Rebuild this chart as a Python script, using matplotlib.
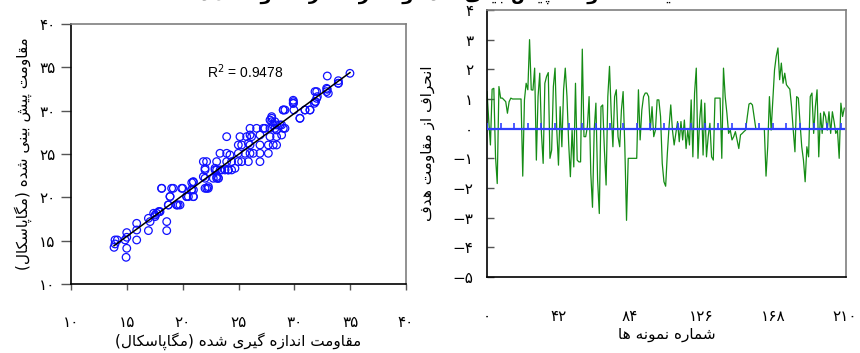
import numpy as np
import matplotlib
matplotlib.use("Agg")
import matplotlib.pyplot as plt

plt.rcParams['font.family'] = ['DejaVu Sans']

# ---- data: measured vs predicted strength (MPa)
measured = [13.94, 14.15, 13.94, 13.85, 14.99, 14.93, 14.99, 14.99, 14.84, 15.88,
            15.88, 15.88, 16.93, 17.08, 16.93, 17.53, 17.91, 18.57, 18.57, 18.72,
            19.46, 19.60, 20.81, 20.96, 20.51, 20.96, 22.00, 22.15, 22.00, 21.85,
            22.30, 23.05, 23.20, 22.90, 23.35, 23.79, 24.09, 17.40, 17.85, 18.12,
            19.16, 20.00, 18.87, 20.36, 20.95, 20.80,
            29.01, 29.91, 29.91, 30.95, 31.40, 31.85, 32.00, 31.85, 32.89, 32.89,
            33.94, 30.50, 27.97, 27.82, 28.26, 28.86, 29.16, 26.03, 26.62, 27.22,
            27.37, 27.82, 28.26, 28.41, 28.71, 23.94, 25.13, 25.73, 26.03, 26.17,
            26.92, 27.82, 28.41, 28.86, 24.98, 25.28, 25.88, 26.03, 26.92, 27.67,
            28.11, 28.41, 23.34, 23.94, 24.23, 24.98, 25.58, 26.03, 26.32, 26.92,
            27.67, 22.14, 23.04, 23.94, 24.38, 24.98, 25.28, 25.88, 26.92, 22.00,
            22.89, 23.04, 23.49, 24.08, 24.38, 24.68, 21.85, 22.74, 23.04, 23.19,
            22.29, 22.00, 20.95, 20.80, 20.35, 20.95, 18.86, 18.71, 19.46, 19.76,
            18.11, 19.01, 19.91, 17.67, 17.97, 17.52,
            34.98, 32.95, 33.94, 33.94, 32.95, 33.04, 32.00, 32.06, 31.90, 31.80,
            29.90, 29.90, 29.96, 29.00, 29.16, 30.50, 30.95, 31.40, 27.97, 27.97,
            28.10, 28.41, 29.01]
predicted = [15.08, 15.08, 14.62, 14.23, 14.12, 13.08, 15.93, 15.39, 15.08, 17.00,
             16.23, 15.08, 17.58, 17.20, 16.16, 17.96, 18.35, 17.20, 16.16, 19.12,
             19.12, 19.12, 21.69, 20.85, 20.08, 20.08, 22.20, 21.04, 23.16, 24.12,
             21.23, 22.39, 22.20, 23.16, 23.16, 23.16, 23.16, 18.16, 18.35, 21.04,
             21.04, 21.04, 20.10, 20.10, 21.75, 20.90,
             30.08, 31.04, 30.85, 30.08, 30.08, 32.20, 31.42, 31.04, 32.20, 32.58,
             33.16, 29.12, 29.31, 28.92, 28.73, 28.35, 27.96, 27.96, 27.96, 27.96,
             27.96, 27.96, 27.96, 27.77, 28.35, 27.00, 27.00, 27.00, 27.19, 27.00,
             27.19, 27.00, 27.00, 27.19, 26.04, 26.04, 26.23, 26.04, 26.04, 26.04,
             26.04, 26.04, 25.08, 25.08, 24.89, 25.08, 25.08, 25.08, 25.08, 25.08,
             25.08, 24.12, 24.12, 24.12, 24.12, 24.12, 24.12, 24.12, 24.12, 23.35,
             23.35, 23.16, 23.16, 23.16, 23.16, 23.35, 22.39, 22.20, 22.20, 22.20,
             21.04, 21.04, 21.81, 20.85, 20.08, 20.08, 20.08, 19.12, 19.12, 19.12,
             21.04, 21.04, 21.04, 18.16, 18.35, 17.77,
             34.31, 34.00, 33.46, 33.16, 32.47, 32.00, 32.20, 31.62, 31.04, 30.85,
             31.20, 30.85, 30.08, 30.08, 30.08, 29.12, 30.08, 30.08, 29.12, 28.73,
             28.35, 28.35, 27.96]
r2_text = "R$^2$ = 0.9478"

# ---- data: deviation from target strength per sample
sample_no = list(range(0, 211))
deviation = [1.25, 0.29, -0.55, 1.33, 1.36, -0.95, -1.85, 1.42, 1.03, 1.03,
             0.97, 0.91, 0.52, 0.91, 1.03, 1.0, 1.0, 1.0, 1.0, 1.0,
             1.0, -1.6, 0.97, 1.53, 1.31, 3.0, 1.31, 1.3, 2.04, -1.06,
             1.08, 1.87, -0.16, -1.17, 1.53, 1.76, 1.89, -1.0, -0.72, 1.42,
             2.04, -0.05, -1.23, 0.74, -0.61, 1.31, 2.04, 1.08, -0.5, -1.62,
             -0.05, -1.29, 1.53, -1.06, -1.12, -1.12, 2.68, -0.27, -0.27, 0.07,
             1.08, -1.51, -2.65, -0.05, 0.86, -1.73, -2.86, 0.74, 0.8, -0.72,
             -1.9, 1.08, 2.1, 0.52, -0.61, 1.08, 1.31, -0.27, -0.61, 0.63,
             1.25, -0.61, -3.09, -1.0, -1.0, -1.0, -1.0, -1.0, -1.0, 1.31,
             -0.38, 0.63, 1.08, 1.2, 1.2, 1.08, -0.05, 0.74, -0.27, -0.05,
             0.97, 0.97, 0.41, -1.17, -1.79, -1.94, -0.83, 0.07, 0.8, -0.05,
             -0.55, -0.16, 0.24, -0.44, 0.24, -0.38, 0.29, -0.67, -0.05, -0.55,
             0.97, -0.95, 1.2, 2.04, -1.0, 0.29, 0.97, -0.89, 0.86, -0.95,
             -0.27, 0.18, -0.95, -1.06, 1.03, 1.03, 1.03, 1.03, -1.0, 2.04,
             1.08, 0.52, -0.16, -0.05, -0.38, -0.27, -0.1, -0.38, -0.67, -0.21,
             -0.16, -0.1, -0.05, 0.41, 0.83, 0.86, 0.8, 0.41, 0.0, 0.0,
             0.0, 0.0, 0.0, 0.0, -1.6, -0.61, 1.08, -0.05, 0.97, 1.98,
             2.44, 2.72, 1.65, 2.21, 1.53, 1.87, 1.48, 1.4, 1.33, 0.74,
             -0.05, -0.78, 1.08, 1.03, 0.18, -0.61, -1.06, -1.79, -0.61, -0.95,
             1.08, 1.2, -0.16, 0.74, 1.31, -0.95, 0.52, -0.16, 0.57, 0.41,
             -0.05, 0.57, -0.16, 0.57, 0.24, -0.16, -0.05, -1.0, 0.86, 0.41,
             0.69]
target_dev = [0.0] * len(sample_no)

left_ticks = [10, 15, 20, 25, 30, 35, 40]
right_yticks = [-5, -4, -3, -2, -1, 0, 1, 2, 3, 4]
right_xticks = [0, 42, 84, 126, 168, 210]

# ---- minimal persian shaping (matplotlib has no bidi / joining)
FORMS = {
    'ا': ('\uFE8D', '\uFE8E', None, None),
    'ب': ('\uFE8F', '\uFE90', '\uFE91', '\uFE92'),
    'پ': ('\uFB56', '\uFB57', '\uFB58', '\uFB59'),
    'ت': ('\uFE95', '\uFE96', '\uFE97', '\uFE98'),
    'ج': ('\uFE9D', '\uFE9E', '\uFE9F', '\uFEA0'),
    'ح': ('\uFEA1', '\uFEA2', '\uFEA3', '\uFEA4'),
    'د': ('\uFEA9', '\uFEAA', None, None),
    'ر': ('\uFEAD', '\uFEAE', None, None),
    'ز': ('\uFEAF', '\uFEB0', None, None),
    'س': ('\uFEB1', '\uFEB2', '\uFEB3', '\uFEB4'),
    'ش': ('\uFEB5', '\uFEB6', '\uFEB7', '\uFEB8'),
    'ع': ('\uFEC9', '\uFECA', '\uFECB', '\uFECC'),
    'ف': ('\uFED1', '\uFED2', '\uFED3', '\uFED4'),
    'ق': ('\uFED5', '\uFED6', '\uFED7', '\uFED8'),
    'ک': ('\uFB8E', '\uFB8F', '\uFB90', '\uFB91'),
    'گ': ('\uFB92', '\uFB93', '\uFB94', '\uFB95'),
    'ل': ('\uFEDD', '\uFEDE', '\uFEDF', '\uFEE0'),
    'م': ('\uFEE1', '\uFEE2', '\uFEE3', '\uFEE4'),
    'ن': ('\uFEE5', '\uFEE6', '\uFEE7', '\uFEE8'),
    'ه': ('\uFEE9', '\uFEEA', '\uFEEB', '\uFEEC'),
    'و': ('\uFEED', '\uFEEE', None, None),
    'ی': ('\uFBFC', '\uFBFD', '\uFBFE', '\uFBFF'),
}


def fa_text(s):
    s = s.replace('\u064A', '\u06CC').replace('\u0643', '\u06A9')
    out = []
    for i, c in enumerate(s):
        if c not in FORMS:
            out.append(c)
            continue
        iso, fin, ini, med = FORMS[c]
        p = s[i - 1] if i > 0 else ''
        n = s[i + 1] if i + 1 < len(s) else ''
        jp = p in FORMS and FORMS[p][2] is not None
        jn = n in FORMS and ini is not None
        if jp and jn:
            out.append(med)
        elif jp:
            out.append(fin)
        elif jn:
            out.append(ini)
        else:
            out.append(iso)
    vis = ''.join(reversed(out))
    return vis.translate(str.maketrans('()', ')('))


FA_DIGITS = str.maketrans('0123456789-', '۰۱۲۳۴۵۶۷۸۹\u2212')


def fa_num(v):
    return str(v).translate(FA_DIGITS)


fig = plt.figure(figsize=(8.6, 3.53), dpi=100)
ax1 = fig.add_axes([0.0826, 0.1955, 0.3895, 0.7365])
ax2 = fig.add_axes([0.5663, 0.2153, 0.4174, 0.7564])

# ---------- left: scatter + fit
ax1.scatter(measured, predicted, s=30, facecolors='none', edgecolors='#1010ff', linewidths=0.9, zorder=3)
coef = np.polyfit(measured, predicted, 1)
xf = np.array([min(measured), max(measured)])
ax1.plot(xf, np.polyval(coef, xf), color='black', lw=1.1, zorder=4)
ax1.text(25.6, 34.5, r2_text, fontsize=10, ha='center', va='center', family='Liberation Sans')

ax1.set_xlim(10, 40)
ax1.set_ylim(10, 40)
ax1.set_xticks(left_ticks)
ax1.set_yticks(left_ticks)
ax1.set_xticklabels([fa_num(t) for t in left_ticks], fontsize=11)
ax1.set_yticklabels([fa_num(t) for t in left_ticks], fontsize=11)
ax1.tick_params(axis='x', direction='out', length=4, width=1, color='#555555', pad=18)
ax1.tick_params(axis='y', direction='out', length=7, width=1, color='#555555', pad=4)
ax1.set_xlabel(fa_text('مقاومت اندازه گیری شده (مگاپاسکال)'), fontsize=11, labelpad=2)
ax1.set_ylabel(fa_text('مقاومت پیش بینی شده (مگاپاسکال)'), fontsize=11, labelpad=5)

# ---------- right: deviation line
ax2.plot(sample_no, deviation, color='#158c15', lw=0.9, zorder=2)
ax2.plot(sample_no, target_dev, color='#2f3fff', lw=1.6, marker=2, ms=4, mew=1.2,
         markevery=8, zorder=3)
ax2.set_xlim(0, 211)
ax2.set_ylim(-5, 4)
ax2.set_xticks(right_xticks)
ax2.set_yticks(right_yticks)
ax2.set_xticklabels([fa_num(t) for t in right_xticks], fontsize=11)
ax2.set_yticklabels([fa_num(t) for t in right_yticks], fontsize=11)
ax2.tick_params(axis='x', length=0, pad=23)
ax2.tick_params(axis='y', direction='in', length=5, width=1, color='#555555', pad=10)
ax2.set_xlabel(fa_text('شماره نمونه ها'), fontsize=11, labelpad=2)
ax2.set_ylabel(fa_text('انحراف از مقاومت هدف'), fontsize=11, labelpad=12)

for ax in (ax1, ax2):
    ax.spines['left'].set_color('black')
    ax.spines['bottom'].set_color('black')
    ax.spines['top'].set_color('#7f7f7f')
    ax.spines['right'].set_color('#7f7f7f')
    for sp in ax.spines.values():
        sp.set_linewidth(1.2)

# title is cut off by the top edge in the original
fig.text(0.513, 1.015, fa_text('مقایسه مقاومت پیش بینی شده و انحراف از مقاومت هدف'),
         ha='center', va='center', fontsize=13, weight='bold')

fig.savefig('out.png', dpi=100)
